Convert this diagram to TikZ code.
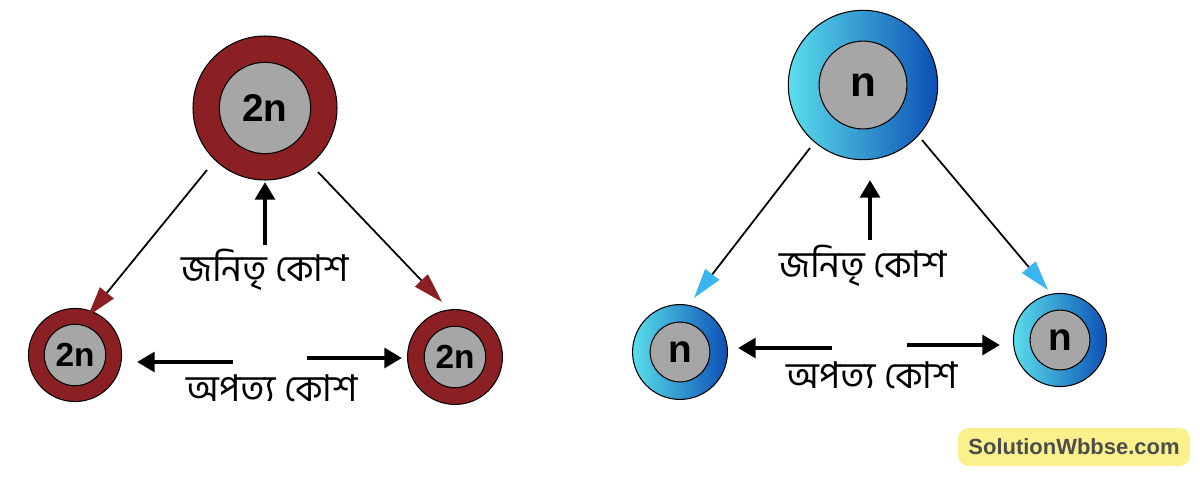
\documentclass[tikz,border=0pt]{standalone}
\usepackage{fontspec}
\setmainfont{Liberation Sans}
\newfontfamily\bnfont[Script=Bengali]{Hind Siliguri}
\usetikzlibrary{arrows.meta}
\definecolor{ringred}{RGB}{139,32,36}
\definecolor{coregray}{RGB}{166,166,166}
\definecolor{ringcyan}{RGB}{90,222,236}
\definecolor{ringblue}{RGB}{12,80,180}
\definecolor{tipblue}{RGB}{60,180,240}
\definecolor{markyellow}{RGB}{250,240,140}
\tikzset{
  redring/.style={circle,draw=black,fill=ringred,line width=0.6pt},
  bluering/.style={circle,draw=black,left color=ringcyan,right color=ringblue,shading angle=90,line width=0.6pt},
  core/.style={circle,draw=black,fill=coregray,line width=0.6pt,font=\bfseries},
  feed/.style={line width=1pt,-{Triangle[length=17pt,width=10pt]}},
  thrust/.style={line width=2.6pt,-{Triangle[length=10pt,width=11pt]}},
  label/.style={font=\bnfont\fontsize{21pt}{24pt}\selectfont}
}
\begin{document}
\begin{tikzpicture}[x=0.02cm,y=-0.02cm]
  \useasboundingbox (0,0) rectangle (1200,480);
  % parent cell, left
  \node[redring,minimum size=2.88cm] (Ltop) at (265,108) {};
  \node[core,minimum size=52pt,font=\bfseries\fontsize{22pt}{24pt}\selectfont] at (Ltop) {2n};
  \node[redring,minimum size=53pt] (Lbl) at (75,355) {};
  \node[core,minimum size=33pt,font=\bfseries\fontsize{19pt}{20pt}\selectfont] at (Lbl) {2n};
  \node[redring,minimum size=54pt] (Lbr) at (455,357) {};
  \node[core,minimum size=33pt,font=\bfseries\fontsize{19pt}{20pt}\selectfont] at (Lbr) {2n};
  % parent cell, right
  \node[bluering,minimum size=85pt] (Rtop) at (863,85) {};
  \node[core,minimum size=50pt,font=\bfseries\fontsize{24pt}{26pt}\selectfont] at (Rtop) {n};
  \node[bluering,minimum size=54pt] (Rbl) at (680,352) {};
  \node[core,minimum size=34pt,font=\bfseries\fontsize{22pt}{24pt}\selectfont] at (Rbl) {n};
  \node[bluering,minimum size=53pt] (Rbr) at (1060,340) {};
  \node[core,minimum size=34pt,font=\bfseries\fontsize{22pt}{24pt}\selectfont] at (Rbr) {n};
  % ends of the connectors
  \coordinate (La) at (207,170); \coordinate (Lb) at (88,316);
  \coordinate (Lc) at (318,172); \coordinate (Ld) at (442,302);
  \coordinate (Ra) at (810,148); \coordinate (Rb) at (694,298);
  \coordinate (Rc) at (922,140); \coordinate (Rd) at (1048,290);
  % division
  \draw[feed,-{Triangle[length=17pt,width=10pt,color=ringred]}] (La) -- (Lb);
  \draw[feed,-{Triangle[length=17pt,width=10pt,color=ringred]}] (Lc) -- (Ld);
  \draw[feed,-{Triangle[length=17pt,width=10pt,color=tipblue]}] (Ra) -- (Rb);
  \draw[feed,-{Triangle[length=17pt,width=10pt,color=tipblue]}] (Rc) -- (Rd);
  % labels
  \node[label] (Lparent) at (265,270) {জনিতৃ কোশ};
  \node[label] (Lchild) at (272,388) {অপত্য কোশ};
  \node[label] (Rparent) at (863,266) {জনিতৃ কোশ};
  \node[label] (Rchild) at (872,375) {অপত্য কোশ};
  \draw[thrust] (265,245) -- (265,182);
  \draw[thrust] (233,362) -- (137,362);
  \draw[thrust] (307,358) -- (402,358);
  \draw[thrust] (870,240) -- (870,180);
  \draw[thrust] (832,348) -- (738,348);
  \draw[thrust] (907,345) -- (1000,345);
  % watermark
  \node[fill=markyellow,rounded corners=6pt,minimum width=4.64cm,minimum height=0.76cm,
        text=black!70,font=\bfseries\fontsize{12.5pt}{14pt}\selectfont] (mark) at (1074,447) {SolutionWbbse.com};
\end{tikzpicture}
\end{document}
